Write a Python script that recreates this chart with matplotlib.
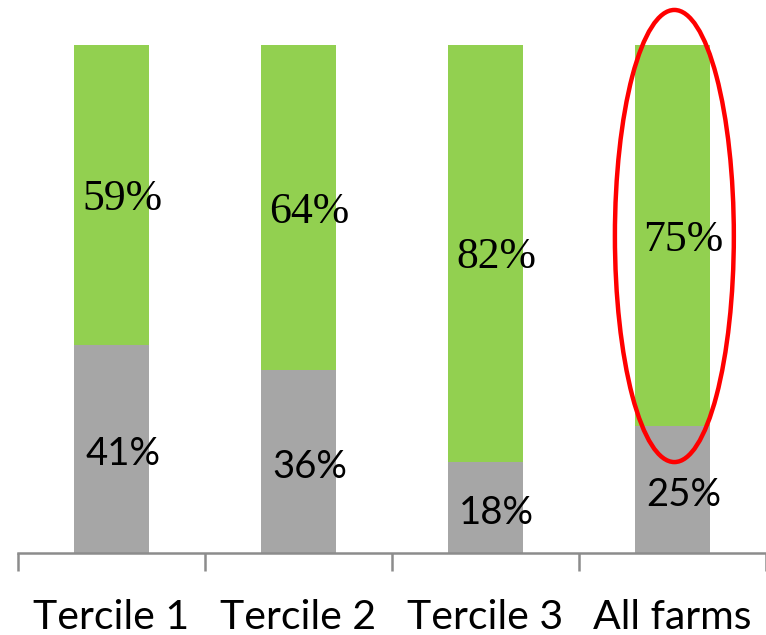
import matplotlib
matplotlib.use("Agg")
import matplotlib.pyplot as plt
from matplotlib.patches import Ellipse
import numpy as np

categories = ["Tercile 1", "Tercile 2", "Tercile 3", "All farms"]
gray_share = [41, 36, 18, 25]
green_share = [59, 64, 82, 75]

GREEN = "#92D050"
GRAY = "#A6A6A6"
AXIS = "#8C8C8C"

fig = plt.figure(figsize=(7.66, 6.35), dpi=100)
ax = fig.add_axes([18 / 766, 1 - 553 / 635, 748 / 766, 508 / 635])

x = np.arange(len(categories))
width = 0.40
ax.bar(x, gray_share, width, color=GRAY, zorder=2)
ax.bar(x, green_share, width, bottom=gray_share, color=GREEN, zorder=2)

for xi, g, gr in zip(x, gray_share, green_share):
    ax.annotate(f"{g}%", (xi, g / 2), xytext=(8, -4), textcoords="offset points",
                ha="center", va="center", fontsize=27.5, family="Lato", color="black")
    ax.annotate(f"{gr}%", (xi, g + gr / 2), xytext=(8, -3), textcoords="offset points",
                ha="center", va="center", fontsize=31.5, family="Liberation Serif", color="black")

ax.set_xlim(-0.5, len(categories) - 0.5)
ax.set_ylim(0, 100)
ax.set_yticks([])
for s in ("top", "right", "left"):
    ax.spines[s].set_visible(False)
ax.spines["bottom"].set_color(AXIS)
ax.spines["bottom"].set_linewidth(1.8)

ax.set_xticks(x)
ax.set_xticklabels(categories, fontsize=29.5, family="Lato")
ax.tick_params(axis="x", which="major", length=0, pad=33)
ax.set_xticks(np.arange(-0.5, len(categories)), minor=True)
ax.tick_params(axis="x", which="minor", length=13, width=1.8, color=AXIS)

# Highlight the all-farms column
ax.add_patch(Ellipse((3.01, 62.4), 0.636, 89.0, fill=False, edgecolor="red",
                     linewidth=3.2, clip_on=False, zorder=5))

fig.savefig("out.png", dpi=100)
